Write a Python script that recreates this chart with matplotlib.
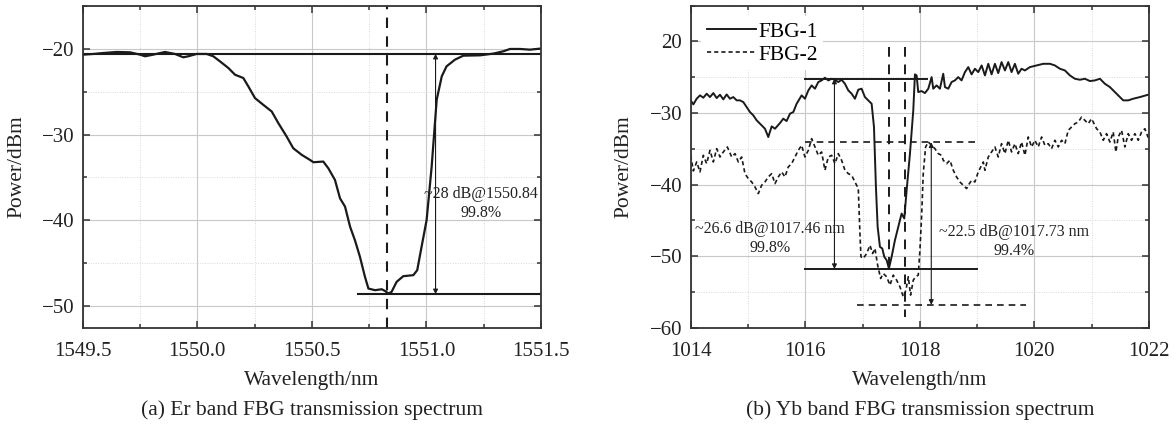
import numpy as np
import matplotlib
matplotlib.use("Agg")
import matplotlib.pyplot as plt
from matplotlib.ticker import MultipleLocator

plt.rcParams['font.family'] = ['Liberation Serif', 'DejaVu Serif']
plt.rcParams['mathtext.fontset'] = 'stix'

# ---- (a) Er band ----
er_wl = [1549.503, 1549.547, 1549.590, 1549.648, 1549.707, 1549.750, 1549.772, 1549.801,
         1549.859, 1549.903, 1549.939, 1549.961, 1549.997, 1550.041, 1550.070, 1550.099,
         1550.136, 1550.165, 1550.201, 1550.223, 1550.252, 1550.288, 1550.325, 1550.354,
         1550.390, 1550.419, 1550.456, 1550.492, 1550.507, 1550.550, 1550.572, 1550.601,
         1550.623, 1550.645, 1550.667, 1550.688, 1550.710, 1550.732, 1550.747, 1550.776,
         1550.805, 1550.819, 1550.834, 1550.848, 1550.870, 1550.899, 1550.943, 1550.960,
         1550.979, 1551.001, 1551.023, 1551.045, 1551.067, 1551.088, 1551.125, 1551.161,
         1551.234, 1551.292, 1551.336, 1551.365, 1551.409, 1551.452, 1551.496]
er_pw = [-20.70, -20.62, -20.51, -20.39, -20.43, -20.70, -20.89, -20.74,
         -20.39, -20.62, -21.01, -20.89, -20.62, -20.62, -20.89, -21.48,
         -22.26, -23.04, -23.42, -24.40, -25.76, -26.54, -27.32, -28.68,
         -30.23, -31.60, -32.37, -32.96, -33.23, -33.15, -33.93, -35.29,
         -37.43, -38.40, -40.74, -42.30, -44.24, -46.58, -47.94, -48.13,
         -48.02, -48.21, -48.52, -48.33, -47.16, -46.50, -46.38, -45.80,
         -43.07, -39.96, -33.74, -25.95, -23.23, -22.06, -21.28, -20.82,
         -20.78, -20.58, -20.31, -20.04, -20.04, -20.12, -20.00]
er_top = -20.6
er_bottom = -48.6
er_bottom_start = 1550.70
er_center = 1550.83
er_arrow_x = 1551.04
er_text = "~28 dB@1550.84\n99.8%"

# ---- (b) Yb band ----
fbg1_wl = [1014.000, 1014.047, 1014.105, 1014.163, 1014.221, 1014.279, 1014.337, 1014.396,
           1014.454, 1014.512, 1014.570, 1014.628, 1014.686, 1014.745, 1014.803, 1014.861,
           1014.919, 1014.977, 1015.035, 1015.094, 1015.152, 1015.210, 1015.297, 1015.355,
           1015.414, 1015.472, 1015.559, 1015.617, 1015.675, 1015.734, 1015.792, 1015.850,
           1015.937, 1015.995, 1016.054, 1016.112, 1016.170, 1016.228, 1016.286, 1016.344,
           1016.403, 1016.461, 1016.519, 1016.577, 1016.635, 1016.693, 1016.752, 1016.810,
           1016.868, 1016.926, 1016.984, 1017.042, 1017.101, 1017.159, 1017.200, 1017.234,
           1017.264, 1017.304, 1017.345, 1017.380, 1017.421, 1017.461, 1017.508, 1017.566,
           1017.624, 1017.682, 1017.729, 1017.770, 1017.828, 1017.886, 1017.915, 1017.944,
           1017.973, 1018.031, 1018.090, 1018.148, 1018.206, 1018.235, 1018.293, 1018.351,
           1018.409, 1018.439, 1018.497, 1018.555, 1018.613, 1018.671, 1018.729, 1018.788,
           1018.846, 1018.904, 1018.962, 1019.020, 1019.079, 1019.137, 1019.195, 1019.253,
           1019.311, 1019.369, 1019.427, 1019.486, 1019.544, 1019.602, 1019.660, 1019.718,
           1019.776, 1019.835, 1019.922, 1020.038, 1020.155, 1020.271, 1020.358, 1020.446,
           1020.533, 1020.620, 1020.707, 1020.795, 1020.882, 1020.969, 1021.056, 1021.144,
           1021.231, 1021.318, 1021.405, 1021.493, 1021.551, 1021.638, 1021.725, 1021.842,
           1021.987]
fbg1_pw = [-28.23, -28.79, -28.00, -27.53, -27.86, -27.30, -27.77, -27.21,
           -27.91, -27.44, -28.09, -27.40, -28.00, -27.77, -28.23, -28.23,
           -28.47, -29.16, -29.86, -30.33, -31.02, -31.49, -32.19, -33.35,
           -31.86, -32.19, -31.40, -30.79, -31.12, -30.09, -29.86, -28.70,
           -27.53, -28.00, -26.84, -26.14, -26.60, -25.67, -25.44, -25.07,
           -25.44, -25.21, -25.35, -25.67, -25.35, -25.91, -26.84, -27.30,
           -28.00, -26.74, -26.60, -27.77, -28.23, -28.70, -31.95, -40.33,
           -45.91, -48.70, -48.93, -50.09, -50.56, -51.72, -50.09, -47.77,
           -45.91, -44.05, -44.74, -40.79, -35.67, -29.63, -24.60, -24.74,
           -27.07, -26.93, -27.21, -26.60, -24.98, -26.60, -26.14, -26.60,
           -24.51, -26.37, -26.60, -25.67, -25.44, -24.98, -25.44, -24.28,
           -23.58, -24.60, -23.81, -24.28, -23.35, -24.74, -23.12, -24.60,
           -23.12, -24.42, -22.88, -24.05, -22.88, -24.28, -23.12, -24.51,
           -23.81, -24.05, -23.58, -23.35, -23.12, -23.12, -23.35, -23.81,
           -24.05, -24.74, -25.21, -25.35, -25.21, -25.53, -25.44, -25.21,
           -25.91, -26.37, -27.07, -27.77, -28.23, -28.23, -28.00, -27.77,
           -27.44]

fbg2_wl = [1014.000, 1014.047, 1014.105, 1014.163, 1014.221, 1014.279, 1014.337, 1014.396,
           1014.454, 1014.512, 1014.570, 1014.640, 1014.716, 1014.774, 1014.832, 1014.890,
           1014.948, 1015.006, 1015.065, 1015.123, 1015.181, 1015.239, 1015.297, 1015.355,
           1015.414, 1015.472, 1015.530, 1015.588, 1015.646, 1015.704, 1015.763, 1015.821,
           1015.879, 1015.937, 1015.995, 1016.054, 1016.112, 1016.170, 1016.228, 1016.286,
           1016.344, 1016.403, 1016.461, 1016.519, 1016.577, 1016.635, 1016.693, 1016.752,
           1016.810, 1016.868, 1016.926, 1016.955, 1016.973, 1017.013, 1017.072, 1017.130,
           1017.176, 1017.217, 1017.264, 1017.316, 1017.362, 1017.421, 1017.479, 1017.537,
           1017.595, 1017.653, 1017.711, 1017.758, 1017.799, 1017.839, 1017.886, 1017.927,
           1017.973, 1018.002, 1018.031, 1018.060, 1018.101, 1018.148, 1018.206, 1018.264,
           1018.322, 1018.380, 1018.409, 1018.468, 1018.526, 1018.584, 1018.642, 1018.700,
           1018.759, 1018.817, 1018.846, 1018.904, 1018.962, 1019.020, 1019.079, 1019.108,
           1019.137, 1019.195, 1019.253, 1019.311, 1019.369, 1019.427, 1019.486, 1019.544,
           1019.602, 1019.660, 1019.718, 1019.776, 1019.835, 1019.893, 1019.951, 1020.009,
           1020.067, 1020.126, 1020.184, 1020.242, 1020.300, 1020.358, 1020.417, 1020.475,
           1020.533, 1020.591, 1020.649, 1020.707, 1020.766, 1020.824, 1020.882, 1020.940,
           1020.998, 1021.086, 1021.144, 1021.202, 1021.260, 1021.318, 1021.376, 1021.423,
           1021.463, 1021.522, 1021.580, 1021.638, 1021.696, 1021.754, 1021.813, 1021.871,
           1021.929, 1021.987]
fbg2_pw = [-35.91, -38.09, -36.84, -38.23, -35.91, -37.07, -35.21, -36.84,
           -34.98, -36.14, -35.44, -34.74, -36.14, -35.67, -36.84, -36.14,
           -38.47, -39.16, -39.63, -40.33, -41.26, -40.09, -39.63, -38.93,
           -38.47, -39.86, -38.93, -38.23, -38.93, -37.53, -37.07, -36.14,
           -35.21, -34.51, -36.14, -35.21, -33.58, -34.74, -35.91, -35.44,
           -38.00, -36.14, -35.91, -37.07, -35.67, -36.60, -38.00, -38.47,
           -38.70, -39.63, -40.56, -46.84, -50.09, -50.33, -49.63, -48.47,
           -49.63, -48.93, -51.26, -53.12, -52.42, -52.88, -54.05, -52.65,
           -53.35, -54.28, -55.67, -54.74, -52.88, -55.44, -53.35, -52.88,
           -52.65, -49.16, -44.51, -38.47, -34.74, -34.05, -34.51, -34.98,
           -35.67, -35.91, -36.60, -37.07, -36.60, -38.00, -38.93, -39.63,
           -40.09, -40.56, -40.09, -39.40, -39.63, -38.23, -37.30, -36.84,
           -38.00, -36.14, -35.44, -34.74, -36.14, -34.28, -35.67, -33.81,
           -35.44, -34.28, -35.67, -34.05, -35.91, -33.35, -34.74, -33.81,
           -34.74, -33.35, -34.51, -34.28, -34.98, -33.81, -34.74, -33.81,
           -34.28, -32.42, -31.95, -31.49, -31.26, -30.56, -31.02, -31.49,
           -30.79, -32.19, -32.65, -33.81, -32.88, -34.05, -32.65, -35.44,
           -33.35, -32.42, -34.74, -32.88, -33.81, -32.88, -33.81, -32.65,
           -32.19, -33.44]

fbg1_top, fbg1_bottom = -25.2, -51.8
fbg2_top, fbg2_bottom = -34.1, -56.8
fbg1_center, fbg2_center = 1017.455, 1017.735
fbg1_text = "~26.6 dB@1017.46 nm\n99.8%"
fbg2_text = "~22.5 dB@1017.73 nm\n99.4%"
right_yticks = [-60, -50, -40, -30, -20]
right_ytick_labels = ['\u221260', '\u221250', '\u221240', '\u221230', '20']

captions = ["(a) Er band FBG transmission spectrum", "(b) Yb band FBG transmission spectrum"]

LC = '#1a1a1a'
TC = '#222222'
fig = plt.figure(figsize=(11.76, 4.28), dpi=100)
ax1 = fig.add_axes([0.0703, 0.2343, 0.3897, 0.7524])
ax2 = fig.add_axes([0.5873, 0.2343, 0.3897, 0.7524])

def style(ax):
    ax.grid(which='major', color='#c8c8c8', lw=0.8, ls='-')
    ax.grid(which='minor', color='#d8d8d8', lw=0.7, ls=(0, (1, 1.5)))
    ax.set_axisbelow(True)
    ax.tick_params(which='both', direction='in', top=True, right=True,
                   colors='#333333', labelcolor=TC, labelsize=15, width=1.1)
    ax.tick_params(which='major', length=5)
    ax.tick_params(which='minor', length=3)
    ax.tick_params(axis='y', pad=6)
    ax.tick_params(axis='x', pad=10)
    for s in ax.spines.values():
        s.set_linewidth(1.3)
        s.set_color('#333333')
    ax.set_xlabel('Wavelength/nm', fontsize=15.5, color=TC)
    ax.set_ylabel('Power/dBm', fontsize=15.5, color=TC)
    ax.xaxis.set_label_coords(0.5, -0.163)
    ax.xaxis.label.set_va('center')
    ax.yaxis.label.set_va('center')

# (a)
style(ax1)
ax1.set_xlim(1549.5, 1551.5)
ax1.set_ylim(-52.5, -15)
ax1.xaxis.set_major_locator(MultipleLocator(0.5))
ax1.xaxis.set_minor_locator(MultipleLocator(0.25))
ax1.yaxis.set_major_locator(MultipleLocator(10))
ax1.yaxis.set_minor_locator(MultipleLocator(5))
ax1.xaxis.set_major_formatter(matplotlib.ticker.FormatStrFormatter('%.1f'))
ax1.yaxis.set_label_coords(-0.144, 0.5)
ax1.plot(er_wl, er_pw, color=LC, lw=1.6)
ax1.axhline(er_top, color=LC, lw=1.5)
ax1.plot([er_bottom_start, 1551.5], [er_bottom, er_bottom], color=LC, lw=1.5)
ax1.axvline(er_center, color=LC, lw=1.5, ls=(0, (5, 4)))
ax1.annotate('', xy=(er_arrow_x, er_bottom), xytext=(er_arrow_x, er_top),
             arrowprops=dict(arrowstyle='<|-|>', color=LC, lw=0.8,
                             mutation_scale=7, shrinkA=0, shrinkB=0))
ax1.text(1551.24, -38.0, er_text, ha='center', va='center', fontsize=11.5,
         color=TC, linespacing=1.25)
ax1.text(0.5, -0.255, captions[0], transform=ax1.transAxes, ha='center', va='center',
         fontsize=15.5, color=TC)

# (b)
style(ax2)
ax2.set_xlim(1014, 1022)
ax2.set_ylim(-60, -15)
ax2.xaxis.set_major_locator(MultipleLocator(2))
ax2.xaxis.set_minor_locator(MultipleLocator(1))
ax2.yaxis.set_minor_locator(MultipleLocator(5))
ax2.set_yticks(right_yticks, right_ytick_labels)
ax2.yaxis.set_label_coords(-0.146, 0.5)
ax2.plot(fbg1_wl, fbg1_pw, color=LC, lw=1.4, label='FBG-1')
ax2.plot(fbg2_wl, fbg2_pw, color=LC, lw=1.2, ls=(0, (2.5, 1.8)), label='FBG-2')
ax2.plot([1016.0, 1018.12], [fbg1_top, fbg1_top], color=LC, lw=1.4)
ax2.plot([1016.0, 1019.0], [fbg1_bottom, fbg1_bottom], color=LC, lw=1.4)
ax2.plot([1016.0, 1019.0], [fbg2_top, fbg2_top], color=LC, lw=1.2, ls=(0, (4, 3)))
ax2.plot([1016.91, 1019.86], [fbg2_bottom, fbg2_bottom], color=LC, lw=1.2, ls=(0, (4, 3)))
ax2.plot([fbg1_center, fbg1_center], [-20.8, -51.8], color=LC, lw=1.4, ls=(0, (5, 4)))
ax2.plot([fbg2_center, fbg2_center], [-20.8, -58.5], color=LC, lw=1.4, ls=(0, (5, 4)))
ax2.annotate('', xy=(1016.51, fbg1_bottom), xytext=(1016.51, fbg1_top),
             arrowprops=dict(arrowstyle='<|-|>', color=LC, lw=0.8,
                             mutation_scale=7, shrinkA=0, shrinkB=0))
ax2.annotate('', xy=(1018.2, fbg2_bottom), xytext=(1018.2, fbg2_top),
             arrowprops=dict(arrowstyle='<|-|>', color=LC, lw=0.8,
                             mutation_scale=7, shrinkA=0, shrinkB=0))
ax2.text(1015.38, -47.6, fbg1_text, ha='center', va='center', fontsize=11.5,
         color=TC, linespacing=1.25)
ax2.text(1019.65, -48.0, fbg2_text, ha='center', va='center', fontsize=11.5,
         color=TC, linespacing=1.25)
leg = ax2.legend(loc='upper left', fontsize=15.5, frameon=True, handlelength=2.3,
                 handletextpad=0.1, borderaxespad=0.5, borderpad=0.25,
                 labelspacing=0.12, fancybox=False)
leg.get_frame().set_edgecolor('none')
leg.get_frame().set_facecolor('white')
leg.get_frame().set_alpha(1)
ax2.text(0.5, -0.255, captions[1], transform=ax2.transAxes, ha='center', va='center',
         fontsize=15.5, color=TC)

fig.savefig('out.png', dpi=100)
